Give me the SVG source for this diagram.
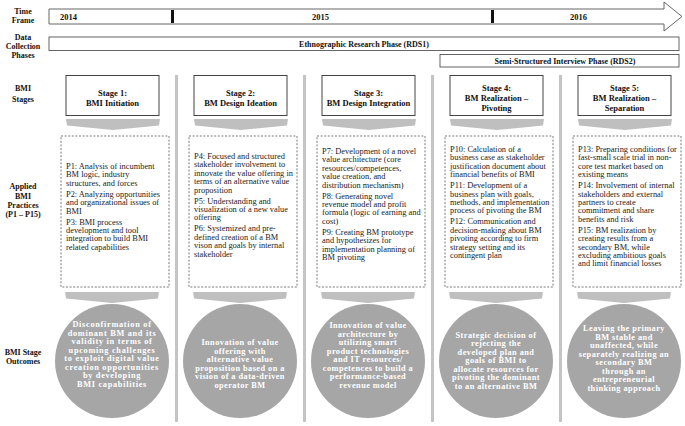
<svg xmlns="http://www.w3.org/2000/svg" width="685" height="426" viewBox="0 0 685 426">
<style>
.lbl{font:bold 8px "Liberation Serif",serif;text-anchor:middle;fill:#111}
.yr{font:bold 8.5px "Liberation Serif",serif;fill:#111}
.bar{fill:#fff;stroke:#555;stroke-width:0.9}
.ph{font:bold 8px "Liberation Serif",serif;text-anchor:middle;fill:#111}
.sbox{fill:#fff;stroke:#444;stroke-width:1}
.st{font:bold 8.5px "Liberation Serif",serif;text-anchor:middle;fill:#111}
.chev{fill:#bfbfbf}
.sep{fill:#c4c4c4}
.dbox{fill:#fff;stroke:#555;stroke-width:0.8;stroke-dasharray:2 1.6}
.pt{font:8.4px "Liberation Serif",serif;fill:#222}
.circ{fill:#a6a6a6}
.ct{font:bold 8.3px "Liberation Serif",serif;text-anchor:middle;fill:#fff;letter-spacing:0.45px}
</style>

<!-- left labels -->
<g id="labels">
<text class="lbl" x="23" y="14">Time</text>
<text class="lbl" x="23" y="23">Frame</text>
<text class="lbl" x="23" y="40">Data</text>
<text class="lbl" x="23" y="49">Collection</text>
<text class="lbl" x="23" y="58">Phases</text>
<text class="lbl" x="23" y="91">BMI</text>
<text class="lbl" x="23" y="102">Stages</text>
<text class="lbl" x="23" y="189">Applied</text>
<text class="lbl" x="23" y="199">BMI</text>
<text class="lbl" x="23" y="208">Practices</text>
<text class="lbl" x="23" y="217">(P1 – P15)</text>
<text class="lbl" x="23" y="355">BMI  Stage</text>
<text class="lbl" x="23" y="364">Outcomes</text>
</g>

<!-- timeline -->
<g id="timeline">
<path class="bar" d="M49 9 H664 V2 L682 16.5 L664 31 V24 H49 Z"/>
<rect x="171" y="10" width="3" height="13" fill="#111"/>
<rect x="491" y="10" width="3" height="13" fill="#111"/>
<text class="yr" x="60" y="20">2014</text>
<text class="yr" x="312" y="20">2015</text>
<text class="yr" x="570" y="20">2016</text>
</g>

<g id="rds1">
<rect class="bar" x="49" y="37" width="630" height="13.5"/>
<text class="ph" x="364" y="46.5">Ethnographic  Research Phase (RDS1)</text>
</g>
<g id="rds2">
<rect class="bar" x="440" y="54.5" width="239" height="12.5"/>
<text class="ph" x="565" y="63.5">Semi-Structured  Interview  Phase (RDS2)</text>
</g>

<!-- separators -->
<g id="separators">
<rect class="sep" x="175" y="75" width="3" height="347"/>
<rect class="sep" x="303" y="75" width="3" height="347"/>
<rect class="sep" x="431" y="75" width="3" height="347"/>
<rect class="sep" x="559" y="75" width="3" height="347"/>
</g>

<!-- connectors: chevrons -->
<g id="connectors">
<path class="chev" d="M66 119 H160 L159 125.5 L113 130 L67 125.5 Z"/>
<path class="chev" d="M194 119 H288 L287 125.5 L241 130 L195 125.5 Z"/>
<path class="chev" d="M322 119 H416 L415 125.5 L369 130 L323 125.5 Z"/>
<path class="chev" d="M450 119 H544 L543 125.5 L497 130 L451 125.5 Z"/>
<path class="chev" d="M578 119 H672 L671 125.5 L625 130 L579 125.5 Z"/>
<path class="chev" d="M65 292 H159 L158 298.5 L112 303 L66 298.5 Z"/>
<path class="chev" d="M193 292 H287 L286 298.5 L240 303 L194 298.5 Z"/>
<path class="chev" d="M321 292 H415 L414 298.5 L368 303 L322 298.5 Z"/>
<path class="chev" d="M449 292 H543 L542 298.5 L496 303 L450 298.5 Z"/>
<path class="chev" d="M577 292 H671 L670 298.5 L624 303 L578 298.5 Z"/>
</g>

<!-- stage 1 -->
<g id="stage1">
<rect class="sbox" x="66" y="75.5" width="93" height="40"/>
<text class="st" x="112.5" y="96">Stage 1:</text>
<text class="st" x="112.5" y="106">BMI  Initiation</text>
</g>
<g id="practices1">
<rect class="dbox" x="61" y="136" width="108" height="151"/>
<text class="pt" x="66" y="169"><tspan x="66">P1:  Analysis of incumbent</tspan><tspan x="66" dy="8.4">BM logic, industry</tspan><tspan x="66" dy="8.4">structures, and forces</tspan><tspan x="66" dy="11">P2:  Analyzing opportunities</tspan><tspan x="66" dy="8.4">and organizational issues of</tspan><tspan x="66" dy="8.4">BMI</tspan><tspan x="66" dy="11">P3:  BMI process</tspan><tspan x="66" dy="8.4">development and tool</tspan><tspan x="66" dy="8.4">integration to build BMI</tspan><tspan x="66" dy="8.4">related capabilities</tspan></text>
</g>
<g id="outcome1">
<circle class="circ" cx="112" cy="361" r="57"/>
<text class="ct" x="112" y="327" style="letter-spacing:0.7px"><tspan x="112">Disconfirmation  of</tspan><tspan x="112" dy="8.5">dominant  BM and its</tspan><tspan x="112" dy="8.5">validity  in terms of</tspan><tspan x="112" dy="8.5">upcoming  challenges</tspan><tspan x="112" dy="8.5">to  exploit digital value</tspan><tspan x="112" dy="8.5">creation opportunities</tspan><tspan x="112" dy="8.5">by developing</tspan><tspan x="112" dy="8.5">BMI  capabilities</tspan></text>
</g>

<!-- stage 2 -->
<g id="stage2">
<rect class="sbox" x="194" y="75.5" width="93" height="40"/>
<text class="st" x="240.5" y="96">Stage 2:</text>
<text class="st" x="240.5" y="106">BM  Design Ideation</text>
</g>
<g id="practices2">
<rect class="dbox" x="189" y="136" width="108" height="151"/>
<text class="pt" x="194" y="159"><tspan x="194">P4:  Focused and structured</tspan><tspan x="194" dy="8.4">stakeholder involvement to</tspan><tspan x="194" dy="8.4">innovate the value offering in</tspan><tspan x="194" dy="8.4">terms of an alternative value</tspan><tspan x="194" dy="8.4">proposition</tspan><tspan x="194" dy="11">P5:  Understanding and</tspan><tspan x="194" dy="8.4">visualization of  a new value</tspan><tspan x="194" dy="8.4">offering</tspan><tspan x="194" dy="11">P6:  Systemized and pre-</tspan><tspan x="194" dy="8.4">defined creation of a BM</tspan><tspan x="194" dy="8.4">vison and goals by internal</tspan><tspan x="194" dy="8.4">stakeholder</tspan></text>
</g>
<g id="outcome2">
<circle class="circ" cx="240" cy="361" r="57"/>
<text class="ct" x="240" y="345"><tspan x="240">Innovation  of value</tspan><tspan x="240" dy="8.5">offering with</tspan><tspan x="240" dy="8.5">alternative  value</tspan><tspan x="240" dy="8.5">proposition  based on a</tspan><tspan x="240" dy="8.5">vision of a data-driven</tspan><tspan x="240" dy="8.5">operator  BM</tspan></text>
</g>

<!-- stage 3 -->
<g id="stage3">
<rect class="sbox" x="322" y="75.5" width="93" height="40"/>
<text class="st" x="368.5" y="96">Stage 3:</text>
<text class="st" x="368.5" y="106">BM  Design Integration</text>
</g>
<g id="practices3">
<rect class="dbox" x="317" y="136" width="108" height="151"/>
<text class="pt" x="322" y="154"><tspan x="322">P7:  Development of a novel</tspan><tspan x="322" dy="8.4">value architecture (core</tspan><tspan x="322" dy="8.4">resources/competences,</tspan><tspan x="322" dy="8.4">value creation, and</tspan><tspan x="322" dy="8.4">distribution mechanism)</tspan><tspan x="322" dy="11">P8:  Generating  novel</tspan><tspan x="322" dy="8.4">revenue model and profit</tspan><tspan x="322" dy="8.4">formula  (logic of earning and</tspan><tspan x="322" dy="8.4">cost)</tspan><tspan x="322" dy="11">P9:  Creating BM prototype</tspan><tspan x="322" dy="8.4">and hypothesizes for</tspan><tspan x="322" dy="8.4">implementation  planning of</tspan><tspan x="322" dy="8.4">BM pivoting</tspan></text>
</g>
<g id="outcome3">
<circle class="circ" cx="368" cy="361" r="57"/>
<text class="ct" x="368" y="328"><tspan x="368">Innovation  of value</tspan><tspan x="368" dy="8.5">architecture by</tspan><tspan x="368" dy="8.5">utilizing smart</tspan><tspan x="368" dy="8.5">product  technologies</tspan><tspan x="368" dy="8.5">and IT  resources/</tspan><tspan x="368" dy="8.5">competences to build a</tspan><tspan x="368" dy="8.5">performance-based</tspan><tspan x="368" dy="8.5">revenue  model</tspan></text>
</g>

<!-- stage 4 -->
<g id="stage4">
<rect class="sbox" x="450" y="75.5" width="93" height="40"/>
<text class="st" x="496.5" y="91">Stage 4:</text>
<text class="st" x="496.5" y="101">BM  Realization   –</text>
<text class="st" x="496.5" y="111">Pivoting</text>
</g>
<g id="practices4">
<rect class="dbox" x="445" y="136" width="108" height="151"/>
<text class="pt" x="450" y="152"><tspan x="450">P10:  Calculation of a</tspan><tspan x="450" dy="8.4">business case as stakeholder</tspan><tspan x="450" dy="8.4">justification document about</tspan><tspan x="450" dy="8.4">financial benefits of BMI</tspan><tspan x="450" dy="11">P11:  Development of a</tspan><tspan x="450" dy="8.4">business plan with goals,</tspan><tspan x="450" dy="8.4">methods, and implementation</tspan><tspan x="450" dy="8.4">process of pivoting the BM</tspan><tspan x="450" dy="11">P12:  Communication  and</tspan><tspan x="450" dy="8.4">decision-making about BM</tspan><tspan x="450" dy="8.4">pivoting according to firm</tspan><tspan x="450" dy="8.4">strategy setting and its</tspan><tspan x="450" dy="8.4">contingent plan</tspan></text>
</g>
<g id="outcome4">
<circle class="circ" cx="496" cy="361" r="57"/>
<text class="ct" x="496" y="337.5"><tspan x="496">Strategic decision of</tspan><tspan x="496" dy="8.5">rejecting the</tspan><tspan x="496" dy="8.5">developed  plan and</tspan><tspan x="496" dy="8.5">goals of BMI to</tspan><tspan x="496" dy="8.5">allocate resources for</tspan><tspan x="496" dy="8.5">pivoting  the dominant</tspan><tspan x="496" dy="8.5">to an alternative  BM</tspan></text>
</g>

<!-- stage 5 -->
<g id="stage5">
<rect class="sbox" x="578" y="75.5" width="93" height="40"/>
<text class="st" x="624.5" y="91">Stage 5:</text>
<text class="st" x="624.5" y="101">BM  Realization   –</text>
<text class="st" x="624.5" y="111">Separation</text>
</g>
<g id="practices5">
<rect class="dbox" x="573" y="136" width="108" height="151"/>
<text class="pt" x="578" y="152"><tspan x="578">P13:  Preparing conditions for</tspan><tspan x="578" dy="8.4">fast-small scale trial in non-</tspan><tspan x="578" dy="8.4">core test market  based on</tspan><tspan x="578" dy="8.4">existing means</tspan><tspan x="578" dy="11">P14:  Involvement of internal</tspan><tspan x="578" dy="8.4">stakeholders and external</tspan><tspan x="578" dy="8.4">partners to create</tspan><tspan x="578" dy="8.4">commitment  and share</tspan><tspan x="578" dy="8.4">benefits and risk</tspan><tspan x="578" dy="11">P15:  BM realization  by</tspan><tspan x="578" dy="8.4">creating results from  a</tspan><tspan x="578" dy="8.4">secondary BM,  while</tspan><tspan x="578" dy="8.4">excluding  ambitious  goals</tspan><tspan x="578" dy="8.4">and limit  financial losses</tspan></text>
</g>
<g id="outcome5">
<circle class="circ" cx="624" cy="361" r="57"/>
<text class="ct" x="624" y="331"><tspan x="624">Leaving  the primary</tspan><tspan x="624" dy="8.5">BM stable and</tspan><tspan x="624" dy="8.5">unaffected,  while</tspan><tspan x="624" dy="8.5">separately realizing an</tspan><tspan x="624" dy="8.5">secondary  BM</tspan><tspan x="624" dy="8.5">through  an</tspan><tspan x="624" dy="8.5">entrepreneurial</tspan><tspan x="624" dy="8.5">thinking approach</tspan></text>
</g>
</svg>
